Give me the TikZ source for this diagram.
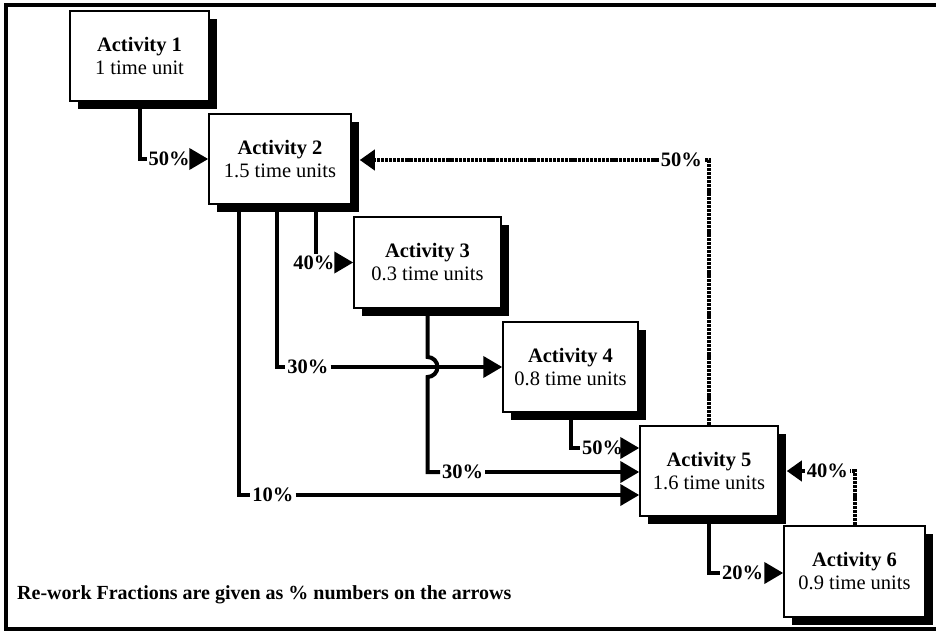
\documentclass[tikz,border=0pt]{standalone}
\usepackage{fontspec}
\setmainfont{Liberation Serif}
\usetikzlibrary{arrows.meta,calc,shadows}
\begin{document}
\begin{tikzpicture}[x=1pt,y=-1pt,
  actbox/.style={draw, line width=1.5pt, fill=white, inner sep=0pt, align=center,
    font=\fontsize{20.5}{23}\selectfont,
    drop shadow={shadow xshift=8pt, shadow yshift=-8pt, opacity=1, fill=black}},
  pct/.style={inner xsep=2pt, inner ysep=1pt, font=\bfseries\fontsize{20.5}{23}\selectfont},
  conn/.style={line width=4pt},
  dotconn/.style={line width=4pt, dash pattern=on 3.2pt off 0.9pt},
  stip/.style={-{Triangle[length=19pt,width=21pt]}},
  dtip/.style={-{Triangle[length=15pt,width=20pt]}}]
\useasboundingbox (0,0) rectangle (936,631);
% frame
\draw[line width=4pt] (945,5) -- (5.5,5) -- (5.5,628.5) -- (945,628.5);

% activities
\node[actbox, minimum width=139pt, minimum height=90pt] (A1) at (139.5,56) {\textbf{Activity 1}\\1 time unit};
\node[actbox, minimum width=142pt, minimum height=90pt] (A2) at (280,159) {\textbf{Activity 2}\\1.5 time units};
\node[actbox, minimum width=147pt, minimum height=91pt] (A3) at (427.5,262.5) {\textbf{Activity 3}\\0.3 time units};
\node[actbox, minimum width=135pt, minimum height=90pt] (A4) at (570.5,367) {\textbf{Activity 4}\\0.8 time units};
\node[actbox, minimum width=138pt, minimum height=90pt] (A5) at (709,471) {\textbf{Activity 5}\\1.6 time units};
\node[actbox, minimum width=141pt, minimum height=91pt] (A6) at (854.5,571.5) {\textbf{Activity 6}\\0.9 time units};

% branch points under Activity 2
\coordinate (s10) at ($(A2.south west)+(31,0)$);
\coordinate (s30) at ($(A2.south west)+(69,0)$);
\coordinate (s40) at ($(A2.south west)+(108,0)$);

% labels
\node[pct, anchor=west] (l1) at ($(A1.south |- A2.west)+(7,0)$) {50\%};
\node[pct] (l40) at ($(s40 |- A3.west)+(-2.5,0)$) {40\%};
\node[pct, anchor=west] (l30a) at ($(s30 |- A4.west)+(8,0)$) {30\%};
\node[pct, anchor=west] (l30b) at ($(A3.south |- A5.west)+(12.5,1)$) {30\%};
\node[pct, anchor=west] (l10) at ($(s10 |- A5.west)+(11,24)$) {10\%};
\node[pct, anchor=west] (l50b) at ($(A4.south |- A5.west)+(9.5,-23)$) {50\%};
\node[pct, anchor=west] (l20) at ($(A5.south |- A6.west)+(11,1.5)$) {20\%};
\node[pct, anchor=east] (l40b) at ($(A6.north |- A5.east)+(-4.5,0)$) {40\%};
\node[pct, anchor=east] (l50c) at ($(A5.north |- A2.east)+(-5,1)$) {50\%};

% solid connectors
\draw[conn] (A1.south) |- (l1.west);
\draw[conn, stip] (l1.east) -- (A2.west);

\draw[conn] (s40) -- (s40 |- l40.north);
\draw[conn, stip] (l40.east) -- (A3.west);

\draw[conn] (s30) |- (l30a.west);
\draw[conn, stip] (l30a.east) -- (A4.west);

\coordinate (jmp) at ($(A3.south |- A4.west)+(0,-10)$);
\draw[conn] (A3.south) -- (jmp)
  arc[start angle=90, end angle=-90, radius=10pt]
  -- (A3.south |- l30b.west) -- (l30b.west);
\draw[conn, stip] (l30b.east) -- ($(A5.west)+(0,1)$);

\draw[conn] (s10) |- (l10.west);
\draw[conn, stip] (l10.east) -- ($(A5.west)+(0,24)$);

\draw[conn] (A4.south) |- (l50b.west);
\draw[conn, stip] (l50b.east) -- ($(A5.west)+(0,-23)$);

\draw[conn] (A5.south) |- (l20.west);
\draw[conn, stip] (l20.east) -- ($(A6.west)+(0,1.5)$);

% dotted connectors
\draw[dotconn] (A6.north) |- (l40b.east);
\draw[dotconn, dtip] (l40b.west) -- ($(A5.east)+(8,0)$);

\draw[dotconn] (A5.north) |- (l50c.east);
\draw[dotconn, dtip] (l50c.west) -- ($(A2.east)+(8,1)$);

% caption
\node[anchor=base west, inner sep=0pt, font=\bfseries\fontsize{20}{22}\selectfont] (cap) at (17,599)
  {Re-work Fractions are given as \% numbers on the arrows};
\end{tikzpicture}
\end{document}
